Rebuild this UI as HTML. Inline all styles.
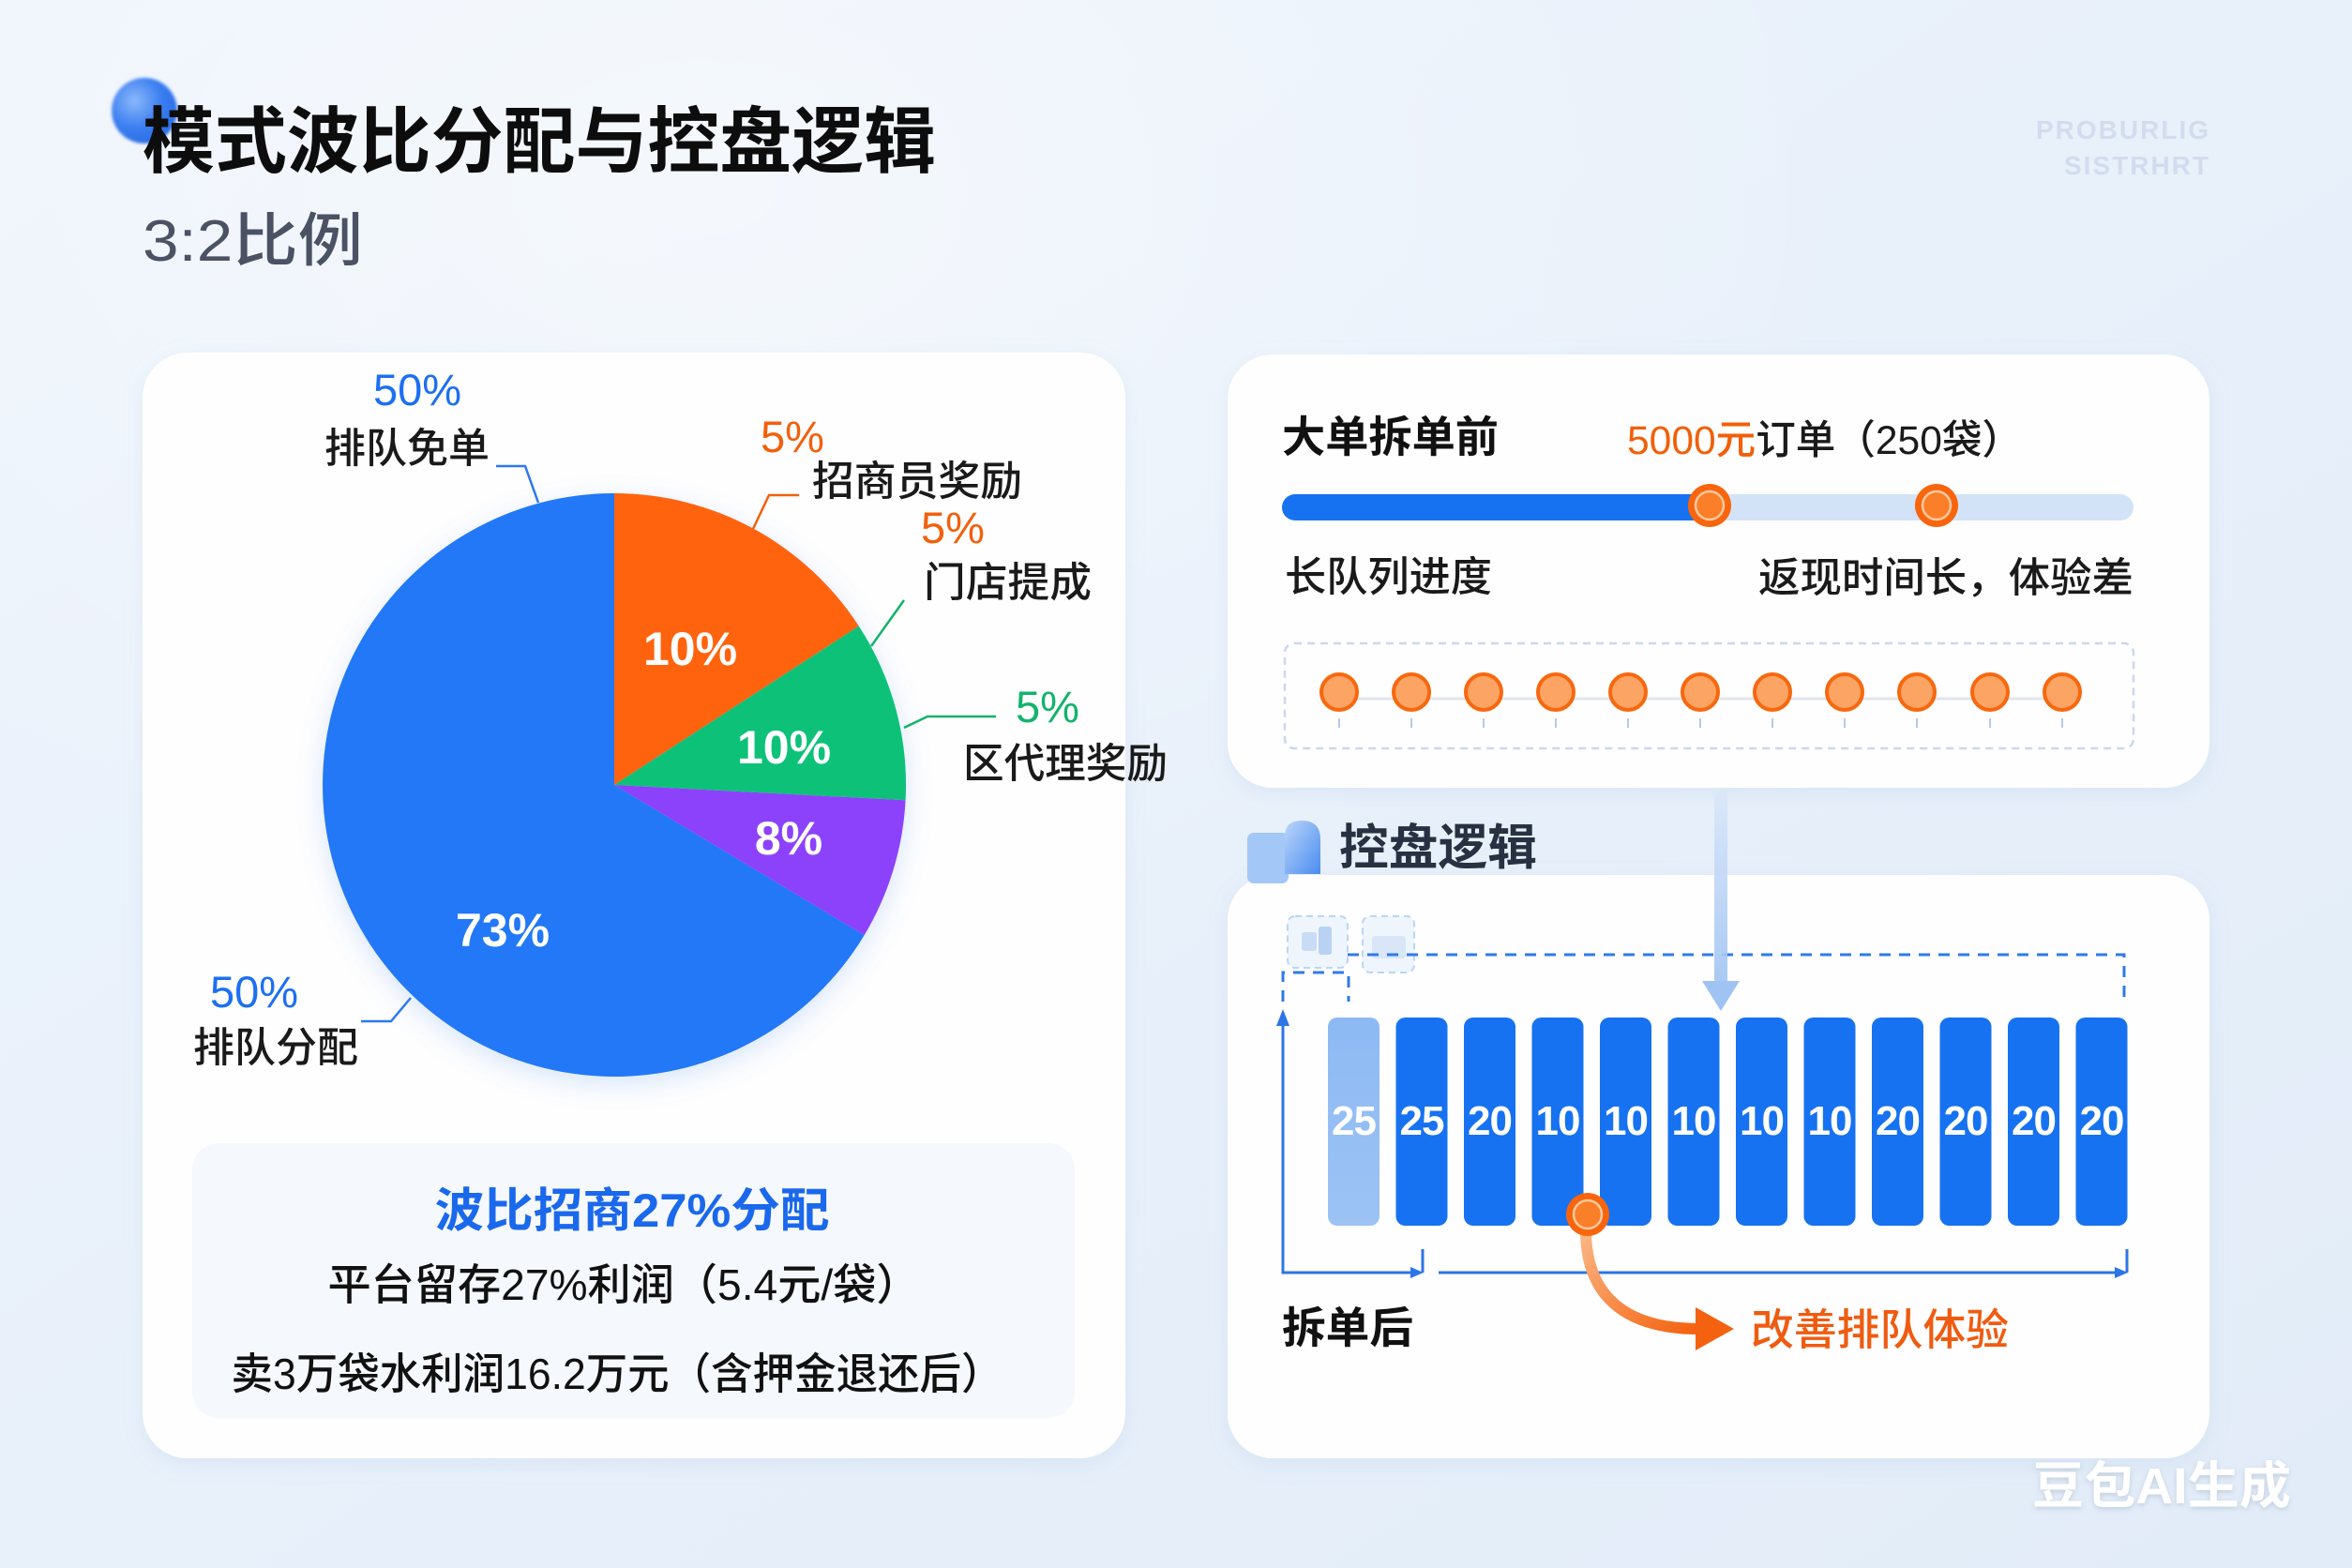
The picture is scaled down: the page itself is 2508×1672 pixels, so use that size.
<!DOCTYPE html>
<html><head><meta charset="utf-8">
<style>
html,body{margin:0;padding:0;width:2508px;height:1672px;overflow:hidden;}
body{background:#e7f0fa;}
svg{display:block;}
text{font-family:"Liberation Sans","Noto Sans CJK SC",sans-serif;}
</style></head>
<body>
<svg width="2508" height="1672" viewBox="0 0 2508 1672" xmlns="http://www.w3.org/2000/svg">
<defs>
  <linearGradient id="bg" x1="0" y1="0" x2="1" y2="1">
    <stop offset="0" stop-color="#eef4fc"/>
    <stop offset="0.5" stop-color="#e8f0fa"/>
    <stop offset="1" stop-color="#e2ecf8"/>
  </linearGradient>
  <radialGradient id="bgw1" cx="0.3" cy="0.12" r="0.5">
    <stop offset="0" stop-color="#ffffff" stop-opacity="0.45"/>
    <stop offset="1" stop-color="#ffffff" stop-opacity="0"/>
  </radialGradient>
  <radialGradient id="dotg" cx="0.35" cy="0.35" r="0.7">
    <stop offset="0" stop-color="#8ab8fb"/>
    <stop offset="0.6" stop-color="#3a7ef0"/>
    <stop offset="1" stop-color="#2b6de6"/>
  </radialGradient>
  <linearGradient id="arrowblue" x1="0" y1="0" x2="0" y2="1">
    <stop offset="0" stop-color="#dbe8f9"/>
    <stop offset="1" stop-color="#9fc3f3"/>
  </linearGradient>
  <linearGradient id="bar1" x1="0" y1="0" x2="0" y2="1">
    <stop offset="0" stop-color="#8db9f3"/>
    <stop offset="1" stop-color="#9cc3f4"/>
  </linearGradient>
  <linearGradient id="iconr" x1="0" y1="0" x2="1" y2="1">
    <stop offset="0" stop-color="#bcd6fa"/>
    <stop offset="1" stop-color="#4a8cf0"/>
  </linearGradient>
  <linearGradient id="orarrow" x1="0" y1="0" x2="1" y2="1">
    <stop offset="0" stop-color="#fbb583"/>
    <stop offset="1" stop-color="#f4620f"/>
  </linearGradient>
  <filter id="cardsh" x="-5%" y="-5%" width="110%" height="110%">
    <feDropShadow dx="0" dy="6" stdDeviation="10" flood-color="#9bb8dd" flood-opacity="0.18"/>
  </filter>
  <filter id="piesh" x="-20%" y="-20%" width="140%" height="140%">
    <feDropShadow dx="0" dy="8" stdDeviation="14" flood-color="#4a8cf0" flood-opacity="0.22"/>
  </filter>
  <filter id="blur2"><feGaussianBlur stdDeviation="1.5"/></filter>
  <filter id="wmsh" x="-10%" y="-20%" width="120%" height="140%">
    <feDropShadow dx="0" dy="2" stdDeviation="3" flood-color="#8090a8" flood-opacity="0.35"/>
  </filter>
</defs>

<!-- background -->
<rect x="0" y="0" width="2508" height="1672" fill="url(#bg)"/>
<rect x="0" y="0" width="2508" height="1672" fill="url(#bgw1)"/>

<!-- title -->
<circle cx="154" cy="118" r="35" fill="url(#dotg)" filter="url(#blur2)"/>
<text x="152" y="178" font-size="77" font-weight="700" fill="#0d0d0d" textLength="846" lengthAdjust="spacingAndGlyphs">模式波比分配与控盘逻辑</text>
<text x="152" y="278" font-size="62" font-weight="500" fill="#4b5263" textLength="235" lengthAdjust="spacingAndGlyphs">3:2比例</text>

<!-- watermark top right -->
<text x="2357" y="148" font-size="28" font-weight="700" fill="#d3dcef" text-anchor="end" letter-spacing="2">PROBURLIG</text>
<text x="2357" y="186" font-size="28" font-weight="700" fill="#d3dcef" text-anchor="end" letter-spacing="2">SISTRHRT</text>

<!-- cards -->
<rect x="152" y="376" width="1048" height="1179" rx="48" fill="#fefefe" filter="url(#cardsh)"/>
<rect x="1309" y="378" width="1047" height="462" rx="48" fill="#fefefe" filter="url(#cardsh)"/>
<rect x="1309" y="933" width="1047" height="622" rx="48" fill="#fefefe" filter="url(#cardsh)"/>

<!-- pie -->
<g filter="url(#piesh)">
  <path d="M655,837 L921.6,997.2 A311,311 0 1 1 655,526 Z" fill="#2078f6"/>
  <path d="M655,837 L655,526 A311,311 0 0 1 915.8,667.6 Z" fill="#ff640a"/>
  <path d="M655,837 L915.8,667.6 A311,311 0 0 1 965.6,853.3 Z" fill="#0ec278"/>
  <path d="M655,837 L965.6,853.3 A311,311 0 0 1 921.6,997.2 Z" fill="#8c43fb"/>
</g>
<g font-size="50" font-weight="700" fill="#ffffff" text-anchor="middle">
  <text x="736" y="709">10%</text>
  <text x="836" y="814">10%</text>
  <text x="841" y="911">8%</text>
  <text x="536" y="1009">73%</text>
</g>

<!-- pie outer labels -->
<g font-size="47" text-anchor="middle">
  <text x="445" y="432" fill="#1d6ff2">50%</text>
  <text x="845" y="482" fill="#f2600c">5%</text>
  <text x="1016" y="579" fill="#f2600c">5%</text>
  <text x="1117" y="770" fill="#13b36c">5%</text>
  <text x="271" y="1074" fill="#1d6ff2">50%</text>
</g>
<g font-size="44" font-weight="500" fill="#1a1a1a">
  <text x="346" y="493" textLength="176" lengthAdjust="spacingAndGlyphs">排队免单</text>
  <text x="866" y="528" textLength="224" lengthAdjust="spacingAndGlyphs">招商员奖励</text>
  <text x="985" y="636" textLength="179" lengthAdjust="spacingAndGlyphs">门店提成</text>
  <text x="1027" y="829" textLength="218" lengthAdjust="spacingAndGlyphs">区代理奖励</text>
  <text x="206" y="1132" textLength="176" lengthAdjust="spacingAndGlyphs">排队分配</text>
</g>
<g fill="none" stroke-width="2.5">
  <polyline points="529,497 560,497 574,536" stroke="#2d78f0"/>
  <polyline points="852,528 820,528 803,564" stroke="#f2600c"/>
  <polyline points="964,640 929,689" stroke="#13b36c"/>
  <polyline points="1062,764 989,764 964,776" stroke="#13b36c"/>
  <polyline points="385,1089 417,1089 438,1064" stroke="#2d78f0"/>
</g>

<!-- inner summary box -->
<rect x="205" y="1219" width="941" height="293" rx="28" fill="#f5f8fc"/>
<text x="674" y="1308" font-size="50" font-weight="700" fill="#1a68ec" text-anchor="middle" textLength="421" lengthAdjust="spacingAndGlyphs">波比招商27%分配</text>
<text x="665" y="1386" font-size="46" font-weight="500" fill="#111111" text-anchor="middle" textLength="631" lengthAdjust="spacingAndGlyphs">平台留存27%利润（5.4元/袋）</text>
<text x="658" y="1481" font-size="46" font-weight="500" fill="#111111" text-anchor="middle" textLength="823" lengthAdjust="spacingAndGlyphs">卖3万袋水利润16.2万元（含押金退还后）</text>

<!-- right top card -->
<text x="1367" y="482" font-size="46" font-weight="700" fill="#111111" textLength="231" lengthAdjust="spacingAndGlyphs">大单拆单前</text>
<text x="1735" y="484" font-size="43" font-weight="500" fill="#1a1a1a" textLength="421" lengthAdjust="spacingAndGlyphs"><tspan fill="#f0600a">5000元</tspan>订单（250袋）</text>

<rect x="1367" y="527" width="908" height="28" rx="14" fill="#d3e3f7"/>
<rect x="1367" y="527" width="470" height="28" rx="14" fill="#1672f0"/>
<g>
  <circle cx="1823" cy="539" r="23" fill="#f8650c"/>
  <circle cx="1823" cy="539" r="15" fill="#fb7f28" stroke="#ffc9a0" stroke-width="2.5"/>
  <circle cx="2065" cy="539" r="23" fill="#f8650c"/>
  <circle cx="2065" cy="539" r="15" fill="#fb7f28" stroke="#ffc9a0" stroke-width="2.5"/>
</g>
<text x="1370" y="630" font-size="44" font-weight="500" fill="#1a1a1a" textLength="221" lengthAdjust="spacingAndGlyphs">长队列进度</text>
<text x="2275" y="631" font-size="44" font-weight="500" fill="#1a1a1a" text-anchor="end" textLength="400" lengthAdjust="spacingAndGlyphs">返现时间长，体验差</text>

<rect x="1370" y="686" width="905" height="112" rx="10" fill="none" stroke="#cbd8ec" stroke-width="2.5" stroke-dasharray="8 6"/>
<line x1="1428" y1="745" x2="2199" y2="745" stroke="#e1e5ec" stroke-width="3"/>
<g id="dots">
  <g stroke="#b7cae8" stroke-width="2">
    <line x1="1428" y1="766" x2="1428" y2="776"/><line x1="1505" y1="766" x2="1505" y2="776"/>
    <line x1="1582" y1="766" x2="1582" y2="776"/><line x1="1659" y1="766" x2="1659" y2="776"/>
    <line x1="1736" y1="766" x2="1736" y2="776"/><line x1="1813" y1="766" x2="1813" y2="776"/>
    <line x1="1890" y1="766" x2="1890" y2="776"/><line x1="1967" y1="766" x2="1967" y2="776"/>
    <line x1="2044" y1="766" x2="2044" y2="776"/><line x1="2122" y1="766" x2="2122" y2="776"/>
    <line x1="2199" y1="766" x2="2199" y2="776"/>
  </g>
  <g fill="#fba463" stroke="#f7680f" stroke-width="4">
    <circle cx="1428" cy="738" r="19"/><circle cx="1505" cy="738" r="19"/>
    <circle cx="1582" cy="738" r="19"/><circle cx="1659" cy="738" r="19"/>
    <circle cx="1736" cy="738" r="19"/><circle cx="1813" cy="738" r="19"/>
    <circle cx="1890" cy="738" r="19"/><circle cx="1967" cy="738" r="19"/>
    <circle cx="2044" cy="738" r="19"/><circle cx="2122" cy="738" r="19"/>
    <circle cx="2199" cy="738" r="19"/>
  </g>
</g>

<!-- 控盘逻辑 header -->
<rect x="1330" y="888" width="44" height="54" rx="7" fill="#a3c7f7"/>
<path d="M1370,932 L1370,892 Q1370,875 1388,875 Q1408,875 1408,895 L1408,932 Z" fill="url(#iconr)"/>
<text x="1428" y="922" font-size="52" font-weight="700" fill="#283142" textLength="211" lengthAdjust="spacingAndGlyphs">控盘逻辑</text>

<!-- dashed frames & icon boxes -->
<rect x="1373" y="977" width="64" height="55" rx="8" fill="#eef5fd" stroke="#bcd5f5" stroke-width="2" stroke-dasharray="7 5"/>
<rect x="1453" y="977" width="55" height="60" rx="8" fill="#eef5fd" stroke="#bcd5f5" stroke-width="2" stroke-dasharray="7 5"/>
<rect x="1388" y="994" width="16" height="20" rx="3" fill="#c9dcf5"/>
<rect x="1406" y="988" width="14" height="30" rx="3" fill="#b9d2f3"/>
<rect x="1463" y="998" width="36" height="24" rx="3" fill="#d8e6f8"/>
<g fill="none" stroke="#2f7ae8" stroke-width="3" stroke-dasharray="12 9">
  <polyline points="1437,1018 2265,1018 2265,1068"/>
  <polyline points="1368,1068 1368,1037 1438,1037 1438,1068"/>
</g>

<!-- bars -->
<g>
  <rect x="1416" y="1085" width="55" height="222" rx="10" fill="url(#bar1)"/>
  <rect x="1488.5" y="1085" width="55" height="222" rx="10" fill="#1672f0"/>
  <rect x="1561" y="1085" width="55" height="222" rx="10" fill="#1672f0"/>
  <rect x="1633.5" y="1085" width="55" height="222" rx="10" fill="#1672f0"/>
  <rect x="1706" y="1085" width="55" height="222" rx="10" fill="#1672f0"/>
  <rect x="1778.5" y="1085" width="55" height="222" rx="10" fill="#1672f0"/>
  <rect x="1851" y="1085" width="55" height="222" rx="10" fill="#1672f0"/>
  <rect x="1923.5" y="1085" width="55" height="222" rx="10" fill="#1672f0"/>
  <rect x="1996" y="1085" width="55" height="222" rx="10" fill="#1672f0"/>
  <rect x="2068.5" y="1085" width="55" height="222" rx="10" fill="#1672f0"/>
  <rect x="2141" y="1085" width="55" height="222" rx="10" fill="#1672f0"/>
  <rect x="2213.5" y="1085" width="55" height="222" rx="10" fill="#1672f0"/>
</g>
<g font-size="44" font-weight="700" fill="#ffffff" text-anchor="middle" letter-spacing="-1">
  <text x="1443.5" y="1210">25</text>
  <text x="1516" y="1210">25</text>
  <text x="1588.5" y="1210">20</text>
  <text x="1661" y="1210">10</text>
  <text x="1733.5" y="1210">10</text>
  <text x="1806" y="1210">10</text>
  <text x="1878.5" y="1210">10</text>
  <text x="1951" y="1210">10</text>
  <text x="2023.5" y="1210">20</text>
  <text x="2096" y="1210">20</text>
  <text x="2168.5" y="1210">20</text>
  <text x="2241" y="1210">20</text>
</g>

<!-- vertical translucent arrow -->
<rect x="1828" y="842" width="14" height="206" fill="url(#arrowblue)" opacity="0.9"/>
<polygon points="1815,1046 1855,1046 1835,1078" fill="#9fc3f3"/>

<!-- blue bracket arrows -->
<g stroke="#2d75e8" stroke-width="3" fill="none">
  <polyline points="1368,1090 1368,1357 1510,1357"/>
  <line x1="1517" y1="1332" x2="1517" y2="1357"/>
  <line x1="1534" y1="1357" x2="2260" y2="1357"/>
  <line x1="2268" y1="1332" x2="2268" y2="1357"/>
</g>
<g fill="#2d75e8">
  <polygon points="1361,1094 1375,1094 1368,1076"/>
  <polygon points="1504,1351 1504,1363 1518,1357"/>
  <polygon points="2255,1351 2255,1363 2269,1357"/>
</g>

<!-- orange curved arrow -->
<path d="M1691,1316 C1693,1388 1740,1417 1812,1417" fill="none" stroke="url(#orarrow)" stroke-width="12" stroke-linecap="round"/>
<polygon points="1808,1394 1808,1440 1849,1417" fill="#f4620f"/>
<circle cx="1693" cy="1295" r="23" fill="#f8650c"/>
<circle cx="1693" cy="1295" r="15" fill="#fb7f28" stroke="#ffc9a0" stroke-width="2.5"/>

<text x="1367" y="1432" font-size="46" font-weight="700" fill="#111111" textLength="140" lengthAdjust="spacingAndGlyphs">拆单后</text>
<text x="1867" y="1434" font-size="46" font-weight="500" fill="#ef5b10" textLength="275" lengthAdjust="spacingAndGlyphs">改善排队体验</text>

<!-- bottom-right watermark -->
<text x="2167" y="1603" font-size="54" font-weight="700" fill="#ffffff" filter="url(#wmsh)" textLength="276" lengthAdjust="spacingAndGlyphs">豆包AI生成</text>
</svg>
</body></html>
